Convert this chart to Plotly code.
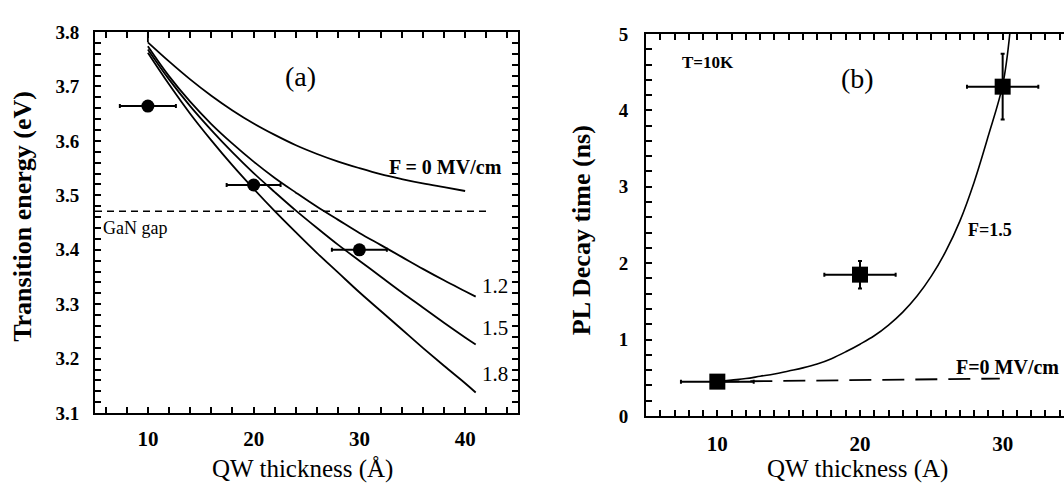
import plotly.graph_objects as go

# ---------------- Panel (a) data ----------------
exp_a_x = [10, 20, 30]
exp_a_y = [3.664, 3.519, 3.400]
exp_a_xerr = [2.65, 2.55, 2.6]

f0_stub_x = [10, 10]
f0_stub_y = [3.800, 3.781]
f0_x = [10, 12, 14, 16, 18, 20, 22, 24, 26, 28, 30, 32, 34, 36, 38, 40]
f0_y = [3.781, 3.746, 3.713, 3.683, 3.656, 3.632, 3.611, 3.592, 3.576, 3.562, 3.550, 3.539, 3.530, 3.522, 3.515, 3.508]

fx = [10, 12, 14, 16, 18, 20, 22, 24, 26, 28, 30, 32, 34, 36, 38, 40, 41]
f12_y = [3.774, 3.719, 3.672, 3.631, 3.595, 3.562, 3.532, 3.505, 3.479, 3.455, 3.431, 3.409, 3.387, 3.365, 3.344, 3.324, 3.314]
f15_y = [3.768, 3.713, 3.664, 3.620, 3.579, 3.541, 3.506, 3.472, 3.440, 3.409, 3.380, 3.351, 3.322, 3.294, 3.266, 3.239, 3.226]
f18_y = [3.762, 3.704, 3.650, 3.601, 3.555, 3.512, 3.471, 3.432, 3.394, 3.358, 3.322, 3.288, 3.254, 3.220, 3.187, 3.155, 3.138]

gan_gap_x = [5, 42]
gan_gap_y = [3.471, 3.471]

a_x_labels = [10, 20, 30, 40]
a_y_labels = [3.1, 3.2, 3.3, 3.4, 3.5, 3.6, 3.7, 3.8]

# ---------------- Panel (b) data ----------------
exp_b_x = [10, 20, 30]
exp_b_y = [0.45, 1.85, 4.31]
exp_b_xerr = [2.55, 2.5, 2.5]
exp_b_yerr = [0.0, 0.18, 0.43]

b15_x = [10, 11, 12, 13, 14, 15, 16, 17, 18, 19, 20, 21, 22, 23, 24, 25, 26, 27, 28, 29, 30, 30.5]
b15_y = [0.45, 0.47, 0.49, 0.52, 0.55, 0.59, 0.63, 0.68, 0.75, 0.84, 0.94, 1.05, 1.19, 1.36, 1.57,
         1.83, 2.15, 2.55, 3.06, 3.67, 4.33, 5.0]

b0_x = [10, 29.8]
b0_y = [0.45, 0.49]

b_x_labels = [10, 20, 30]
b_y_labels = [0, 1, 2, 3, 4, 5]

SERIF = "Liberation Serif, Times New Roman, serif"
BLK = "black"

fig = go.Figure()

# panel (a)
fig.add_trace(go.Scatter(x=gan_gap_x, y=gan_gap_y, mode="lines",
                         line=dict(color=BLK, width=1.5, dash="7px,5px"),
                         xaxis="x", yaxis="y", showlegend=False))
fig.add_trace(go.Scatter(x=f0_stub_x, y=f0_stub_y, mode="lines",
                         line=dict(color=BLK, width=1.8), xaxis="x", yaxis="y", showlegend=False))
for xs, ys in [(f0_x, f0_y), (fx, f12_y), (fx, f15_y), (fx, f18_y)]:
    fig.add_trace(go.Scatter(x=xs, y=ys, mode="lines",
                             line=dict(color=BLK, width=1.8, shape="spline", smoothing=1.0),
                             xaxis="x", yaxis="y", showlegend=False))
fig.add_trace(go.Scatter(x=exp_a_x, y=exp_a_y, mode="markers",
                         marker=dict(color=BLK, size=13, symbol="circle"),
                         error_x=dict(type="data", array=exp_a_xerr, color=BLK, thickness=2, width=2),
                         xaxis="x", yaxis="y", showlegend=False))

# panel (b)
fig.add_trace(go.Scatter(x=b0_x, y=b0_y, mode="lines",
                         line=dict(color=BLK, width=1.8, dash="22px,11px"),
                         xaxis="x2", yaxis="y2", showlegend=False))
fig.add_trace(go.Scatter(x=b15_x, y=b15_y, mode="lines",
                         line=dict(color=BLK, width=1.6, shape="spline", smoothing=1.0),
                         xaxis="x2", yaxis="y2", showlegend=False))
fig.add_trace(go.Scatter(x=exp_b_x, y=exp_b_y, mode="markers",
                         marker=dict(color=BLK, size=16, symbol="square"),
                         error_x=dict(type="data", array=exp_b_xerr, color=BLK, thickness=2, width=2),
                         error_y=dict(type="data", array=exp_b_yerr, color=BLK, thickness=2, width=2),
                         xaxis="x2", yaxis="y2", showlegend=False))

W, H = 1064, 495
def px(x):
    return x / W
def py(y):
    return (H - y) / H

def ticks_with_minor(labels, step, lo, hi, fmt):
    n = int(round((hi - lo) / step))
    vals = [round(lo + i * step, 4) for i in range(n + 1)]
    text = []
    for v in vals:
        hit = [l for l in labels if abs(l - v) < 1e-6]
        text.append(fmt.format(hit[0]) if hit else "")
    return vals, text

ax_v, ax_t = ticks_with_minor(a_x_labels, 2, 6, 44, "{:d}")
ay_v, ay_t = ticks_with_minor(a_y_labels, 0.02, 3.1, 3.8, "{:.1f}")
bx_v, bx_t = ticks_with_minor(b_x_labels, 1, 6, 34, "{:d}")
by_v, by_t = ticks_with_minor(b_y_labels, 0.2, 0, 5, "{:d}")

tickfont_x = dict(family=SERIF, size=21, color=BLK, weight="bold")
tickfont_y = dict(family=SERIF, size=19, color=BLK, weight="bold")

common = dict(showgrid=False, zeroline=False, showline=True, linecolor=BLK, linewidth=2,
              ticks="inside", tickcolor=BLK, tickwidth=2, ticklen=6, tickmode="array")

fig.update_layout(
    width=W, height=H, margin=dict(l=0, r=0, t=0, b=0),
    paper_bgcolor="white", plot_bgcolor="white",
    xaxis=dict(domain=[px(95), px(518)], range=[5, 45], tickvals=ax_v, ticktext=ax_t,
               mirror="ticks", tickfont=tickfont_x, ticklabelstandoff=6, anchor="y", **common),
    yaxis=dict(domain=[py(421), py(23)], range=[3.1, 3.8], tickvals=ay_v, ticktext=ay_t,
               mirror="ticks", tickfont=tickfont_y, ticklabelstandoff=10, anchor="x", **common),
    xaxis2=dict(domain=[px(646), 1.0], range=[5, 34.3], tickvals=bx_v, ticktext=bx_t,
                mirror="ticks", tickfont=tickfont_x, ticklabelstandoff=8, anchor="y2", **common),
    yaxis2=dict(domain=[py(424), py(25)], range=[0, 5], tickvals=by_v, ticktext=by_t,
                mirror=False, tickfont=tickfont_y, ticklabelstandoff=12, anchor="x2", **common),
)

def ann(text, x, y, xref, yref, size, bold=False, xanchor="center", yanchor="middle", angle=0):
    fig.add_annotation(text=text, x=x, y=y, xref=xref, yref=yref, showarrow=False,
                       xanchor=xanchor, yanchor=yanchor, textangle=angle,
                       font=dict(family=SERIF, size=size, color=BLK,
                                 weight="bold" if bold else "normal"))

# panel (a) texts
ann("(a)", 24.4, 3.719, "x", "y", 28)
ann("F = 0 MV/cm", 32.6, 3.552, "x", "y", 20, bold=True, xanchor="left")
ann("GaN gap", 5.6, 3.440, "x", "y", 18, xanchor="left")
ann("1.2", 42.8, 3.334, "x", "y", 21)
ann("1.5", 42.8, 3.257, "x", "y", 21)
ann("1.8", 42.8, 3.172, "x", "y", 21)
ann("QW thickness (Å)", px(302), py(479), "paper", "paper", 25)
ann("Transition energy (eV)", px(23), py(216), "paper", "paper", 26, bold=True, angle=-90)

# panel (b) texts
ann("T=10K", 7.4, 4.63, "x2", "y2", 17, bold=True, xanchor="left")
ann("(b)", 19.8, 4.42, "x2", "y2", 28)
ann("F=1.5", 27.4, 2.44, "x2", "y2", 18, bold=True, xanchor="left")
ann("F=0 MV/cm", 26.6, 0.64, "x2", "y2", 20, bold=True, xanchor="left")
ann("QW thickness (A)", px(857), py(479), "paper", "paper", 25)
ann("PL Decay time (ns)", px(581), py(230), "paper", "paper", 26, bold=True, angle=-90)

fig.write_html("out.html")
